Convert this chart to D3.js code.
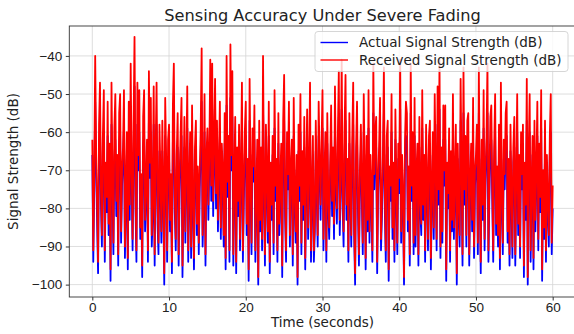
<!DOCTYPE html>
<html>
<head>
<meta charset="utf-8">
<script src="https://cdn.jsdelivr.net/npm/d3@7"></script>
<style>
  body { margin: 0; background: #fff; }
  svg { display: block; font-family: 'DejaVu Sans', sans-serif; }
  .tick text { fill: #222; font-size: 13.5px; }
  .tick line { stroke: #333; }
  .grid line { stroke: #d6d6d6; stroke-width: 0.8; }
  .spine { stroke: #333; stroke-width: 0.9; fill: none; }
  .title { font-size: 16.2px; fill: #222; }
  .axis-label { font-size: 13.5px; fill: #222; }
  .legend text { font-size: 13.5px; fill: #222; }
</style>
</head>
<body>
<svg width="574" height="334"></svg>
<script>
(function (d3) {
  'use strict';

  // one sample every 0.125 s, 0 to 60 s (one row per second)
  const timeStep = 0.125;

  const receivedSignal = [
    -62, -91, -71, -40, -66, -79, -94, -58,
    -47, -75, -87, -61, -49, -91, -68, -77,
    -52, -84, -63, -96, -47, -72, -89, -59,
    -50, -78, -66, -92, -55, -50, -86, -70,
    -64, -49, -90, -74, -60, -93, -52, -79,
    -42, -69, -88, -58, -35, -76, -91, -47,
    -66, -49, -85, -71, -95, -56, -49, -83,
    -73, -62, -91, -44, -68, -51, -87, -77,
    -48, -92, -65, -47, -79, -89, -58, -70,
    -86, -57, -74, -97, -51, -67, -91, -62,
    -58, -83, -71, -94, -53, -42, -77, -88,
    -66, -55, -92, -72, -61, -51, -95, -75,
    -56, -86, -68, -48, -91, -73, -60, -90,
    -53, -77, -93, -64, -57, -84, -69, -89,
    -71, -59, -38, -87, -76, -50, -92, -66,
    -59, -79, -65, -41, -74, -42, -78, -62,
    -46, -76, -57, -83, -68, -52, -85, -63,
    -70, -87, -55, -93, -40, -73, -61, -91,
    -37, -66, -44, -92, -71, -56, -94, -64,
    -78, -58, -88, -69, -47, -91, -74, -60,
    -52, -84, -67, -96, -46, -72, -89, -59,
    -69, -53, -91, -75, -62, -98, -57, -83,
    -64, -88, -40, -73, -92, -58, -70, -86,
    -52, -94, -68, -79, -61, -89, -49, -74,
    -67, -91, -55, -84, -72, -63, -95, -57,
    -45, -78, -91, -60, -71, -52, -87, -69,
    -62, -92, -51, -76, -86, -66, -98, -58,
    -74, -50, -89, -65, -79, -56, -93, -70,
    -54, -85, -69, -47, -91, -75, -61, -91,
    -83, -57, -73, -87, -52, -67, -79, -63,
    -49, -88, -71, -60, -91, -55, -77, -85,
    -68, -53, -78, -64, -84, -48, -72, -80,
    -61, -44, -83, -70, -41, -76, -86, -59,
    -45, -79, -67, -91, -55, -73, -87, -62,
    -47, -84, -97, -64, -52, -77, -92, -70,
    -58, -74, -89, -50, -69, -93, -61, -83,
    -49, -86, -66, -75, -91, -42, -71, -60,
    -56, -94, -72, -64, -51, -88, -78, -66,
    -43, -77, -91, -61, -57, -96, -69, -74,
    -50, -85, -68, -91, -54, -73, -89, -63,
    -72, -41, -86, -66, -76, -98, -62, -52,
    -55, -83, -69, -92, -42, -74, -60, -89,
    -51, -87, -70, -63, -92, -56, -77, -84,
    -49, -79, -66, -91, -58, -72, -88, -61,
    -57, -93, -74, -60, -85, -50, -69, -88,
    -48, -75, -41, -90, -64, -86, -53, -70,
    -53, -96, -68, -76, -59, -91, -65, -83,
    -50, -85, -71, -58, -97, -63, -78, -87,
    -46, -69, -92, -43, -75, -61, -87, -57,
    -55, -92, -72, -63, -83, -51, -90, -70,
    -66, -58, -89, -43, -74, -94, -62, -79,
    -49, -88, -70, -61, -42, -91, -73, -56,
    -53, -74, -91, -64, -50, -84, -69, -87,
    -58, -93, -47, -76, -89, -62, -71, -55,
    -52, -86, -67, -92, -58, -75, -90, -64,
    -56, -92, -72, -50, -84, -66, -90, -60,
    -71, -58, -95, -68, -79, -46, -98, -65,
    -50, -91, -74, -61, -93, -57, -83, -69,
    -52, -88, -63, -77, -49, -96, -70, -85,
    -57, -91, -66, -78, -87, -61, -50, -89,
    -74
  ];

  const actualSignal = [
    -66, -94, -75, -52, -70, -84, -97, -66,
    -58, -79, -90, -65, -60, -94, -73, -81,
    -61, -87, -68, -99, -58, -76, -92, -67,
    -62, -82, -70, -95, -63, -60, -89, -74,
    -68, -59, -93, -79, -66, -96, -62, -83,
    -55, -74, -91, -65, -48, -80, -94, -58,
    -70, -60, -88, -75, -98, -64, -60, -86,
    -77, -67, -94, -56, -72, -60, -90, -82,
    -58, -95, -69, -58, -84, -92, -65, -74,
    -89, -65, -78, -100, -61, -71, -94, -67,
    -66, -86, -75, -97, -62, -54, -81, -91,
    -70, -64, -95, -76, -66, -61, -98, -79,
    -64, -89, -72, -59, -94, -77, -66, -93,
    -62, -81, -96, -68, -65, -87, -73, -92,
    -75, -66, -52, -90, -80, -60, -95, -70,
    -66, -83, -69, -53, -78, -54, -82, -67,
    -57, -80, -64, -86, -72, -61, -88, -67,
    -74, -90, -63, -96, -53, -77, -66, -94,
    -51, -70, -56, -95, -75, -64, -97, -68,
    -82, -65, -91, -73, -58, -94, -78, -66,
    -61, -87, -71, -99, -57, -76, -92, -66,
    -73, -62, -94, -79, -67, -100, -65, -86,
    -68, -91, -53, -77, -95, -65, -74, -89,
    -61, -97, -72, -83, -66, -92, -59, -78,
    -71, -94, -63, -87, -76, -67, -98, -65,
    -57, -82, -94, -66, -75, -61, -90, -73,
    -66, -95, -61, -80, -89, -70, -100, -65,
    -78, -60, -92, -69, -83, -64, -96, -74,
    -62, -88, -73, -58, -94, -79, -66, -94,
    -86, -65, -77, -90, -61, -71, -83, -67,
    -59, -91, -75, -66, -94, -63, -81, -88,
    -72, -62, -82, -68, -88, -58, -76, -84,
    -66, -56, -87, -74, -54, -80, -90, -66,
    -57, -83, -71, -94, -63, -77, -90, -67,
    -58, -87, -100, -68, -61, -81, -95, -74,
    -65, -78, -92, -60, -73, -96, -66, -86,
    -59, -89, -70, -79, -94, -55, -75, -66,
    -64, -97, -76, -68, -61, -91, -82, -70,
    -55, -81, -94, -66, -64, -99, -73, -78,
    -60, -88, -72, -94, -62, -77, -92, -67,
    -76, -54, -89, -70, -80, -100, -67, -61,
    -63, -86, -73, -95, -55, -78, -66, -92,
    -61, -90, -74, -67, -95, -64, -81, -87,
    -59, -83, -70, -94, -65, -76, -91, -66,
    -65, -96, -78, -66, -88, -60, -73, -91,
    -58, -79, -54, -93, -68, -89, -62, -74,
    -62, -99, -72, -80, -66, -94, -69, -86,
    -60, -88, -75, -65, -100, -67, -82, -90,
    -57, -73, -95, -55, -79, -66, -90, -65,
    -63, -95, -76, -67, -86, -61, -93, -74,
    -70, -65, -92, -55, -78, -97, -67, -83,
    -59, -91, -74, -66, -55, -94, -77, -64,
    -62, -78, -94, -68, -60, -87, -73, -90,
    -65, -96, -58, -80, -92, -67, -75, -63,
    -61, -89, -71, -95, -65, -79, -93, -68,
    -64, -95, -76, -60, -87, -70, -93, -66,
    -75, -65, -98, -72, -83, -57, -100, -69,
    -60, -94, -78, -66, -96, -65, -86, -73,
    -61, -91, -67, -81, -59, -99, -74, -88,
    -65, -94, -70, -82, -90, -66, -60, -92,
    -80
  ];

  const xTicks = [0, 10, 20, 30, 40, 50, 60];
  const yTicks = [-100, -90, -80, -70, -60, -50, -40];
  const seriesNames = ['Actual Signal Strength (dB)', 'Received Signal Strength (dB)'];

  const svg = d3.select('svg');
  const left = 69.3, right = 575.7, top = 26, bottom = 297;

  const xScale = d3.scaleLinear().domain([-3, 63]).range([left, right]);
  const yScale = d3.scaleLinear().domain([-103.25, -32.15]).range([bottom, top]);

  const toPoints = values => values.map((v, i) => [i * timeStep, v]);

  const lineGen = d3.line()
    .x(d => xScale(d[0]))
    .y(d => yScale(d[1]));

  svg.append('defs').append('clipPath').attr('id', 'plot-clip')
    .append('rect')
      .attr('x', left).attr('y', top)
      .attr('width', right - left).attr('height', bottom - top);

  // grid
  const grid = svg.append('g').attr('class', 'grid');
  grid.selectAll('.gx').data(xTicks)
    .enter().append('line')
      .attr('x1', xScale).attr('x2', xScale)
      .attr('y1', top).attr('y2', bottom);
  grid.selectAll('.gy').data(yTicks)
    .enter().append('line')
      .attr('x1', left).attr('x2', right)
      .attr('y1', yScale).attr('y2', yScale);

  const plot = svg.append('g').attr('clip-path', 'url(#plot-clip)');

  plot.append('path')
    .attr('d', lineGen(toPoints(actualSignal)))
    .attr('fill', 'none')
    .attr('stroke', '#0000ff')
    .attr('stroke-width', 1.8)
    .attr('stroke-linejoin', 'round');

  plot.append('path')
    .attr('d', lineGen(toPoints(receivedSignal)))
    .attr('fill', 'none')
    .attr('stroke', '#ff0000')
    .attr('stroke-width', 1.8)
    .attr('stroke-linejoin', 'round');

  // axes
  const xAxis = d3.axisBottom(xScale)
    .tickValues(xTicks).tickSize(3.5).tickPadding(2);
  const yAxis = d3.axisLeft(yScale)
    .tickValues(yTicks).tickSize(3.5).tickPadding(3.5);

  svg.append('g')
    .attr('transform', `translate(0,${bottom})`)
    .call(xAxis)
    .call(g => g.select('.domain').remove())
    .selectAll('text').attr('font-family', null);

  svg.append('g')
    .attr('transform', `translate(${left},0)`)
    .call(yAxis)
    .call(g => g.select('.domain').remove())
    .selectAll('text').attr('font-family', null);

  svg.append('rect')
    .attr('class', 'spine')
    .attr('x', left).attr('y', top)
    .attr('width', right - left).attr('height', bottom - top);

  // texts
  svg.append('text')
    .attr('class', 'title')
    .attr('x', (left + right) / 2)
    .attr('y', 21)
    .attr('text-anchor', 'middle')
    .text('Sensing Accuracy Under Severe Fading');

  svg.append('text')
    .attr('class', 'axis-label')
    .attr('x', (left + right) / 2)
    .attr('y', 327)
    .attr('text-anchor', 'middle')
    .text('Time (seconds)');

  svg.append('text')
    .attr('class', 'axis-label')
    .attr('transform', `translate(18,${(top + bottom) / 2}) rotate(-90)`)
    .attr('text-anchor', 'middle')
    .text('Signal Strength (dB)');

  // legend
  const legend = svg.append('g').attr('class', 'legend');
  legend.append('rect')
    .attr('x', 315).attr('y', 31.5)
    .attr('width', 253).attr('height', 40)
    .attr('rx', 3)
    .attr('fill', '#fff').attr('fill-opacity', 0.8)
    .attr('stroke', '#cccccc').attr('stroke-width', 0.8);

  const legendColors = ['#0000ff', '#ff0000'];
  const rows = legend.selectAll('g.row').data(seriesNames)
    .enter().append('g')
      .attr('class', 'row')
      .attr('transform', (d, i) => `translate(0,${42.5 + i * 17.5})`);

  rows.append('line')
    .attr('x1', 320.5).attr('x2', 348)
    .attr('stroke', (d, i) => legendColors[i])
    .attr('stroke-width', 1.4);

  rows.append('text')
    .attr('x', 359)
    .attr('dy', '0.36em')
    .text(d => d);

}(d3));
</script>
</body>
</html>
